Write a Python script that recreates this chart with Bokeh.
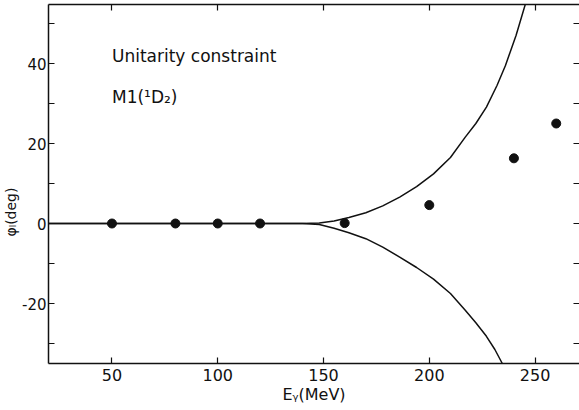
from bokeh.plotting import figure
from bokeh.models import LinearAxis, FixedTicker, Label, Range1d
from bokeh.embed import file_html
from bokeh.resources import INLINE

# data
E_points = [50, 80, 100, 120, 160, 200, 240, 260]
phi_points = [0, 0, 0, 0, 0.1, 4.6, 16.3, 25]

E_upper = [20, 100, 140, 148, 155, 162, 170, 178, 186, 194, 202, 210, 217, 222, 227, 232, 236, 241, 245.5, 247]
phi_upper = [0, 0, 0, 0.1, 0.6, 1.5, 2.7, 4.4, 6.6, 9.2, 12.4, 16.5, 21.6, 25.0, 29.1, 34.5, 39.5, 47.0, 55.0, 58.0]

E_lower = [20, 100, 140, 148, 155, 162, 170, 178, 186, 194, 202, 210, 217, 222, 227, 231, 234.5, 236]
phi_lower = [0, 0, 0, -0.25, -1.2, -2.3, -3.8, -5.9, -8.4, -11.0, -13.9, -17.5, -21.7, -24.8, -28.2, -31.5, -35.0, -36.5]

x_ticks = [50, 100, 150, 200, 250]
y_major = [-20, 0, 20, 40]
y_minor = [-30, -10, 10, 30, 50]
y_labels = {-20: "-20", 0: "0", 20: "20", 40: "40"}

FONT = "DejaVu Sans"
INK = "#111111"

p = figure(width=579, height=410, output_backend="svg", toolbar_location=None,
           x_range=Range1d(20, 271), y_range=Range1d(-35, 54.75),
           x_axis_location=None, y_axis_location=None,
           min_border_left=48, min_border_right=0, min_border_top=4, min_border_bottom=47)
p.outline_line_color = None
p.xgrid.visible = False
p.ygrid.visible = False
p.background_fill_color = "white"
p.border_fill_color = "white"


def style(ax):
    ax.axis_line_color = INK
    ax.axis_line_width = 1.5
    ax.major_tick_line_color = INK
    ax.minor_tick_line_color = INK
    ax.major_tick_line_width = 1.2
    ax.minor_tick_line_width = 1.2
    ax.major_tick_in = 6
    ax.major_tick_out = 0
    ax.minor_tick_in = 6
    ax.minor_tick_out = 0
    ax.major_label_text_font = FONT
    ax.major_label_text_color = INK
    ax.major_label_text_font_size = "16px"
    ax.major_label_standoff = 3
    ax.axis_label_text_font = FONT
    ax.axis_label_text_font_style = "normal"
    ax.axis_label_text_font_size = "15px"
    ax.axis_label_text_color = INK


bottom = LinearAxis(ticker=FixedTicker(ticks=x_ticks, minor_ticks=[]))
style(bottom)
bottom.major_label_standoff = 5
bottom.axis_label = "Eᵧ(MeV)"
bottom.axis_label_standoff = 1
bottom.axis_label_text_font_size = "16px"
p.add_layout(bottom, "below")

# top edge: ticks only (as minor ticks, so no labels)
top = LinearAxis(ticker=FixedTicker(ticks=[], minor_ticks=x_ticks))
style(top)
top.major_label_standoff = 0
p.add_layout(top, "above")

left = LinearAxis(ticker=FixedTicker(ticks=y_major, minor_ticks=y_minor),
                  major_label_overrides=y_labels)
style(left)
left.major_label_text_font_size = "15px"
left.major_label_standoff = 2
left.axis_label = "φₗ(deg)\u2003\u2003\u2003\u2003"
left.axis_label_standoff = 0
left.axis_label_text_font_size = "14px"
p.add_layout(left, "left")

# right edge: ticks only
right = LinearAxis(ticker=FixedTicker(ticks=[], minor_ticks=y_major + y_minor))
style(right)
right.axis_line_color = None
right.major_label_standoff = 0
p.add_layout(right, "right")

# curves
p.line(E_upper, phi_upper, line_color=INK, line_width=1.5)
p.line(E_lower, phi_lower, line_color=INK, line_width=1.5)

# data points
p.scatter(E_points, phi_points, size=9, marker="circle", fill_color=INK, line_color=INK)

# annotations
p.add_layout(Label(x=50, y=42, text="Unitarity constraint", text_font=FONT,
                   text_font_size="17px", text_color=INK, text_baseline="middle"))
p.add_layout(Label(x=50, y=31.75, text="M1(¹D₂)", text_font=FONT,
                   text_font_size="17px", text_color=INK, text_baseline="middle"))

open("out.html", "w").write(file_html(p, INLINE))
